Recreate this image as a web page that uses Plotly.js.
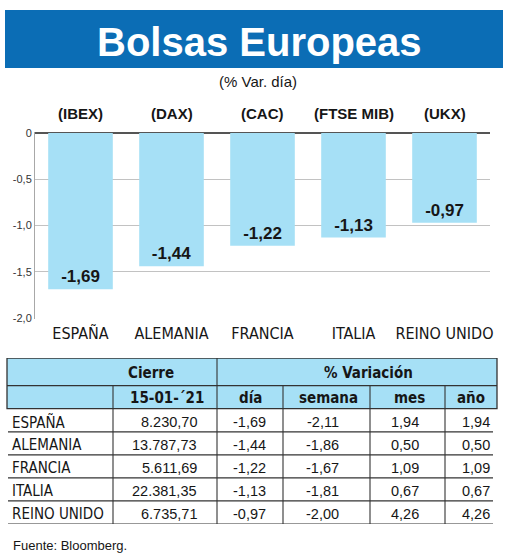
<!DOCTYPE html>
<html><head><meta charset="utf-8">
<script src="https://cdn.plot.ly/plotly-3.0.1.min.js"></script>
<style>html,body{margin:0;padding:0;background:#fff}#chart{width:520px;height:555px}</style>
</head><body><div id="chart"></div>
<script>
// ---------- data ----------
const countries = ['ESPAÑA','ALEMANIA','FRANCIA','ITALIA','REINO UNIDO'];
const indices = ['(IBEX)','(DAX)','(CAC)','(FTSE MIB)','(UKX)'];
const varDia = [-1.69,-1.44,-1.22,-1.13,-0.97];
const cierre = [8230.70,13787.73,5611.69,22381.35,6735.71];
const varSemana = [-2.11,-1.86,-1.67,-1.81,-2.00];
const varMes = [1.94,0.50,1.09,0.67,4.26];
const varAno = [1.94,0.50,1.09,0.67,4.26];
const yTickVals = [0,-0.5,-1,-1.5,-2];
const yTickText = ['0','-0,5','-1,0','-1,5','-2,0'];
const titleText = 'Bolsas Europeas';
const subtitleText = '(% Var. día)';
const cierreHeader = 'Cierre';
const fechaHeader = '15-01-´21';
const variacionHeader = '% Variación';
const colHeaders = ['día','semana','mes','año'];
const sourceText = 'Fuente: Bloomberg.';

// ---------- layout config ----------
const W = 520, H = 555;
const NARROW = "'Liberation Sans Narrow','Arial Narrow','DejaVu Sans Condensed',sans-serif";
const SANS = "'Liberation Sans',Arial,sans-serif";
const BLUE = '#0b6db5', LIGHT = '#a6e0f6', INK = '#161616', RULE = '#333';
const px = x => x / W, py = y => 1 - y / H;

const xEdges = [7,113,217,283,370,445,497];
const valueRight = [199,268,341,421,492];
const row2Centers = [167,250,328,409,471];

function fmt(v){
  const s = Math.abs(v).toFixed(2).split('.');
  const int = s[0].replace(/\B(?=(\d{3})+(?!\d))/g,'.');
  return (v<0?'-':'') + int + ',' + s[1];
}

const traces = [
  {
    type:'bar', x:countries, y:varDia, xaxis:'x', yaxis:'y',
    marker:{color:LIGHT, line:{width:0}},
    texttemplate:'%{y:.2f}', textposition:'inside', insidetextanchor:'end',
    textangle:0, constraintext:'none', cliponaxis:false,
    insidetextfont:{family:SANS, size:17, color:INK, weight:700},
    hoverinfo:'skip'
  },
  {type:'scatter', x:[], y:[], xaxis:'x2', yaxis:'y2', hoverinfo:'skip', showlegend:false}
];

const shapes = [];
const annotations = [];

// title band
shapes.push({type:'rect', xref:'paper', yref:'paper', x0:px(5), x1:px(503), y0:py(68), y1:py(10),
  fillcolor:BLUE, line:{width:0}, layer:'below'});
annotations.push({xref:'paper', yref:'paper', x:px(259), y:py(42), text:'<b>'+titleText+'</b>',
  showarrow:false, xanchor:'center', yanchor:'middle', font:{family:SANS, size:40, color:'#fff'}});
annotations.push({xref:'paper', yref:'paper', x:px(258), y:py(81), text:subtitleText,
  showarrow:false, xanchor:'center', yanchor:'middle', font:{family:SANS, size:15, color:INK}});

// index labels over bars
countries.forEach((c,i)=>{
  annotations.push({xref:'x', yref:'paper', x:c, y:py(113), text:'<b>'+indices[i]+'</b>',
    showarrow:false, xanchor:'center', yanchor:'middle', font:{family:SANS, size:15, color:INK}});
});

// table
const T = {xref:'x2', yref:'y2'};
shapes.push(Object.assign({type:'rect', x0:xEdges[0], x1:xEdges[6], y0:-2.2, y1:0,
  fillcolor:LIGHT, line:{color:RULE, width:1.3}}, T));
shapes.push(Object.assign({type:'line', x0:xEdges[0], x1:xEdges[6], y0:-1, y1:-1, line:{color:RULE, width:1.3}}, T));
shapes.push(Object.assign({type:'line', x0:xEdges[2], x1:xEdges[2], y0:-2.2, y1:countries.length, line:{color:RULE, width:1.1}}, T));
[1,3,4,5].forEach(k=>{
  shapes.push(Object.assign({type:'line', x0:xEdges[k], x1:xEdges[k], y0:-1, y1:countries.length, line:{color:RULE, width:1.1}}, T));
});
countries.forEach((c,i)=>{
  shapes.push(Object.assign({type:'line', x0:8, x1:493, y0:i+1, y1:i+1, line:{color:RULE, width:1.2}}, T));
});

const hdrFont = {family:NARROW, size:15, color:INK};
annotations.push(Object.assign({x:151, y:-1.55, text:'<b>'+cierreHeader+'</b>', showarrow:false, xanchor:'center', yanchor:'middle', font:hdrFont}, T));
annotations.push(Object.assign({x:368, y:-1.55, text:'<b>'+variacionHeader+'</b>', showarrow:false, xanchor:'center', yanchor:'middle', font:hdrFont}, T));
[fechaHeader].concat(colHeaders).forEach((h,k)=>{
  annotations.push(Object.assign({x:row2Centers[k], y:-0.48, text:'<b>'+h+'</b>', showarrow:false, xanchor:'center', yanchor:'middle', font:hdrFont}, T));
});

const cellFont = {family:SANS, size:14.5, color:INK};
const labelFont = {family:NARROW, size:15, color:INK};
countries.forEach((c,i)=>{
  const yy = i + 0.58;
  annotations.push(Object.assign({x:10, y:yy, text:c, showarrow:false, xanchor:'left', yanchor:'middle', font:labelFont}, T));
  [cierre[i], varDia[i], varSemana[i], varMes[i], varAno[i]].forEach((v,k)=>{
    annotations.push(Object.assign({x:valueRight[k], y:yy, text:fmt(v), showarrow:false, xanchor:'right', yanchor:'middle', font:cellFont}, T));
  });
});

annotations.push({xref:'paper', yref:'paper', x:px(11), y:py(545), text:sourceText, showarrow:false,
  xanchor:'left', yanchor:'middle', font:{family:SANS, size:13, color:INK}});

const layout = {
  width:W, height:H, margin:{l:0,r:0,t:0,b:0},
  paper_bgcolor:'#fff', plot_bgcolor:'rgba(0,0,0,0)',
  separators:',.', showlegend:false, bargap:0.29,
  xaxis:{domain:[px(35), px(490)], type:'category', anchor:'y', showgrid:false, showline:false, zeroline:false,
    ticks:'', ticklabelstandoff:3, tickfont:{family:NARROW, size:16, color:INK}, fixedrange:true},
  yaxis:{domain:[py(318.9), py(132.1)], range:[-2.01,0.01], anchor:'x', tickvals:yTickVals, ticktext:yTickText,
    showgrid:true, gridcolor:'#c2c2c2', gridwidth:1, zeroline:true, zerolinecolor:'#555', zerolinewidth:1.6,
    showline:true, linecolor:'#a8a8a8', linewidth:1, ticks:'', tickfont:{family:SANS, size:11, color:'#333'}, fixedrange:true},
  xaxis2:{domain:[0,1], range:[0,W], anchor:'y2', visible:false, fixedrange:true},
  yaxis2:{domain:[py(524), py(358)], range:[5,-2.2], anchor:'x2', visible:false, fixedrange:true},
  shapes:shapes, annotations:annotations
};

Plotly.newPlot('chart', traces, layout, {staticPlot:true, displayModeBar:false});
</script>
</body></html>
